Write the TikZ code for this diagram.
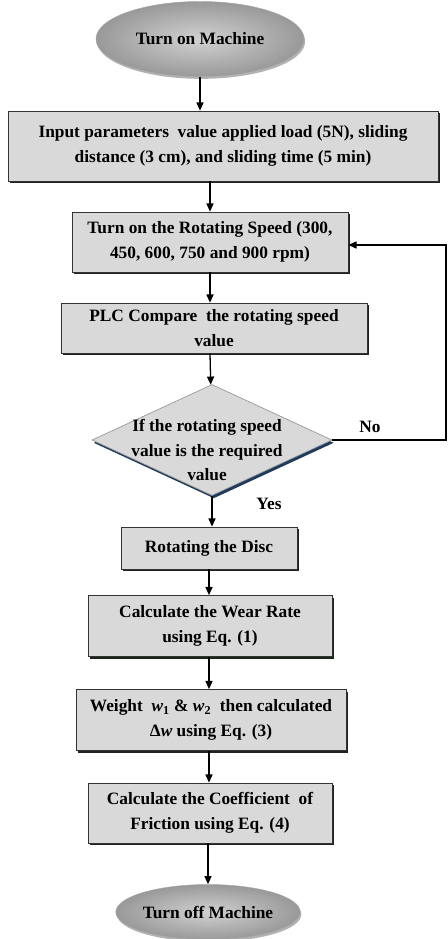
\documentclass[tikz,border=0pt]{standalone}
\usepackage{fontspec}
\setmainfont{Liberation Serif}
\usetikzlibrary{shapes.geometric, shadows, arrows.meta}
\definecolor{boxshadow}{HTML}{1C241C}
\definecolor{decshadow}{HTML}{1F3B5C}

\begin{document}
\begin{tikzpicture}[x=0.03cm, y=-0.03cm,
    every node/.style={font=\bfseries\fontsize{14.8}{21}\selectfont, align=center},
    procbox/.style={rectangle, draw=black!80, line width=0.6pt, fill=gray!30, inner sep=2pt,
        drop shadow={shadow xshift=1.8pt, shadow yshift=-1.8pt, opacity=1, fill=boxshadow}},
    terminal/.style={ellipse, draw=gray!70, inner color=gray!36, outer color=gray!80, inner sep=0pt,
        drop shadow={shadow xshift=1pt, shadow yshift=-2pt, opacity=0.3, fill=black}},
    decision/.style={diamond, draw=gray!80, line width=0.6pt, fill=gray!30, inner sep=0pt,
        drop shadow={shadow xshift=1.5pt, shadow yshift=-2.4pt, opacity=1, fill=decshadow}},
    flow/.style={-{Triangle[length=7pt, width=6pt]}, line width=1.1pt}]

    % frame of the whole picture
    \useasboundingbox (0,0) rectangle (448,939);

    % --- start ---
    \node[terminal, minimum width=6.24cm, minimum height=2.25cm] (start) at (200,39) {Turn on Machine};

    % --- process boxes ---
    \node[procbox, minimum width=12.9cm, minimum height=2.1cm] (input) at (223,146)
        {Input parameters\ \ value applied load (5N), sliding\\distance (3 cm), and sliding time (5 min)};
    \node[procbox, minimum width=8.28cm, minimum height=1.8cm] (speed) at (210,242)
        {Turn on the Rotating Speed (300,\\450, 600, 750 and 900 rpm)};
    \node[procbox, minimum width=9.18cm, minimum height=1.5cm] (plc) at (214,328)
        {PLC Compare\ \ the rotating speed\\value};

    % --- decision (text set on its own so the diamond keeps its size) ---
    \node[decision, minimum width=7.2cm, minimum height=3.33cm] (dec) at (212,440) {};
    \node (dectext) at (207,450) {If the rotating speed\\value is the required\\value};
    \node (lblno) at (370,427) {No};
    \node (lblyes) at (269,504) {Yes};

    \node[procbox, minimum width=5.28cm, minimum height=1.26cm] (disc) at (209,548) {Rotating the Disc};
    \node[procbox, minimum width=7.32cm, minimum height=1.83cm] (wear) at (210,626)
        {Calculate the Wear Rate\\using Eq. (1)};
    \node[procbox, minimum width=8.1cm, minimum height=1.83cm] (weight) at (211,720)
        {Weight\ \ \textit{w}\textsubscript{1} \& \textit{w}\textsubscript{2}\ \ then calculated\\Δ\textit{w} using Eq. (3)};
    \node[procbox, minimum width=7.32cm, minimum height=1.8cm] (coef) at (210,813)
        {Calculate the Coefficient\ \ of\\Friction using Eq. (4)};

    % --- end ---
    \node[terminal, minimum width=5.4cm, minimum height=1.65cm] (stop) at (208,912) {Turn off Machine};

    % --- connectors ---
    \draw[flow] (start) -- (start |- input.north);
    \draw[flow] (speed |- input.south) -- (speed);
    \draw[flow] (speed.south) -- (speed.south |- plc.north);
    \draw[flow] (speed.south |- plc.south) -- (dec);
    \draw[flow] (dec) -- (dec |- disc.north);
    \draw[flow] (disc) -- (disc.south |- wear.north);
    \draw[flow] (disc.south |- wear.south) -- (disc.south |- weight.north);
    \draw[flow] (disc.south |- weight.south) -- (disc.south |- coef.north);
    \draw[flow] (stop |- coef.south) -- (stop);

    % loop back when the speed is not the required one
    \coordinate (loopdown) at (446,440);
    \coordinate (loopup) at (446,245);
    \draw[flow] (dec.east) -- (loopdown) -- (loopup) -- (speed.east |- loopup);

\end{tikzpicture}
\end{document}
